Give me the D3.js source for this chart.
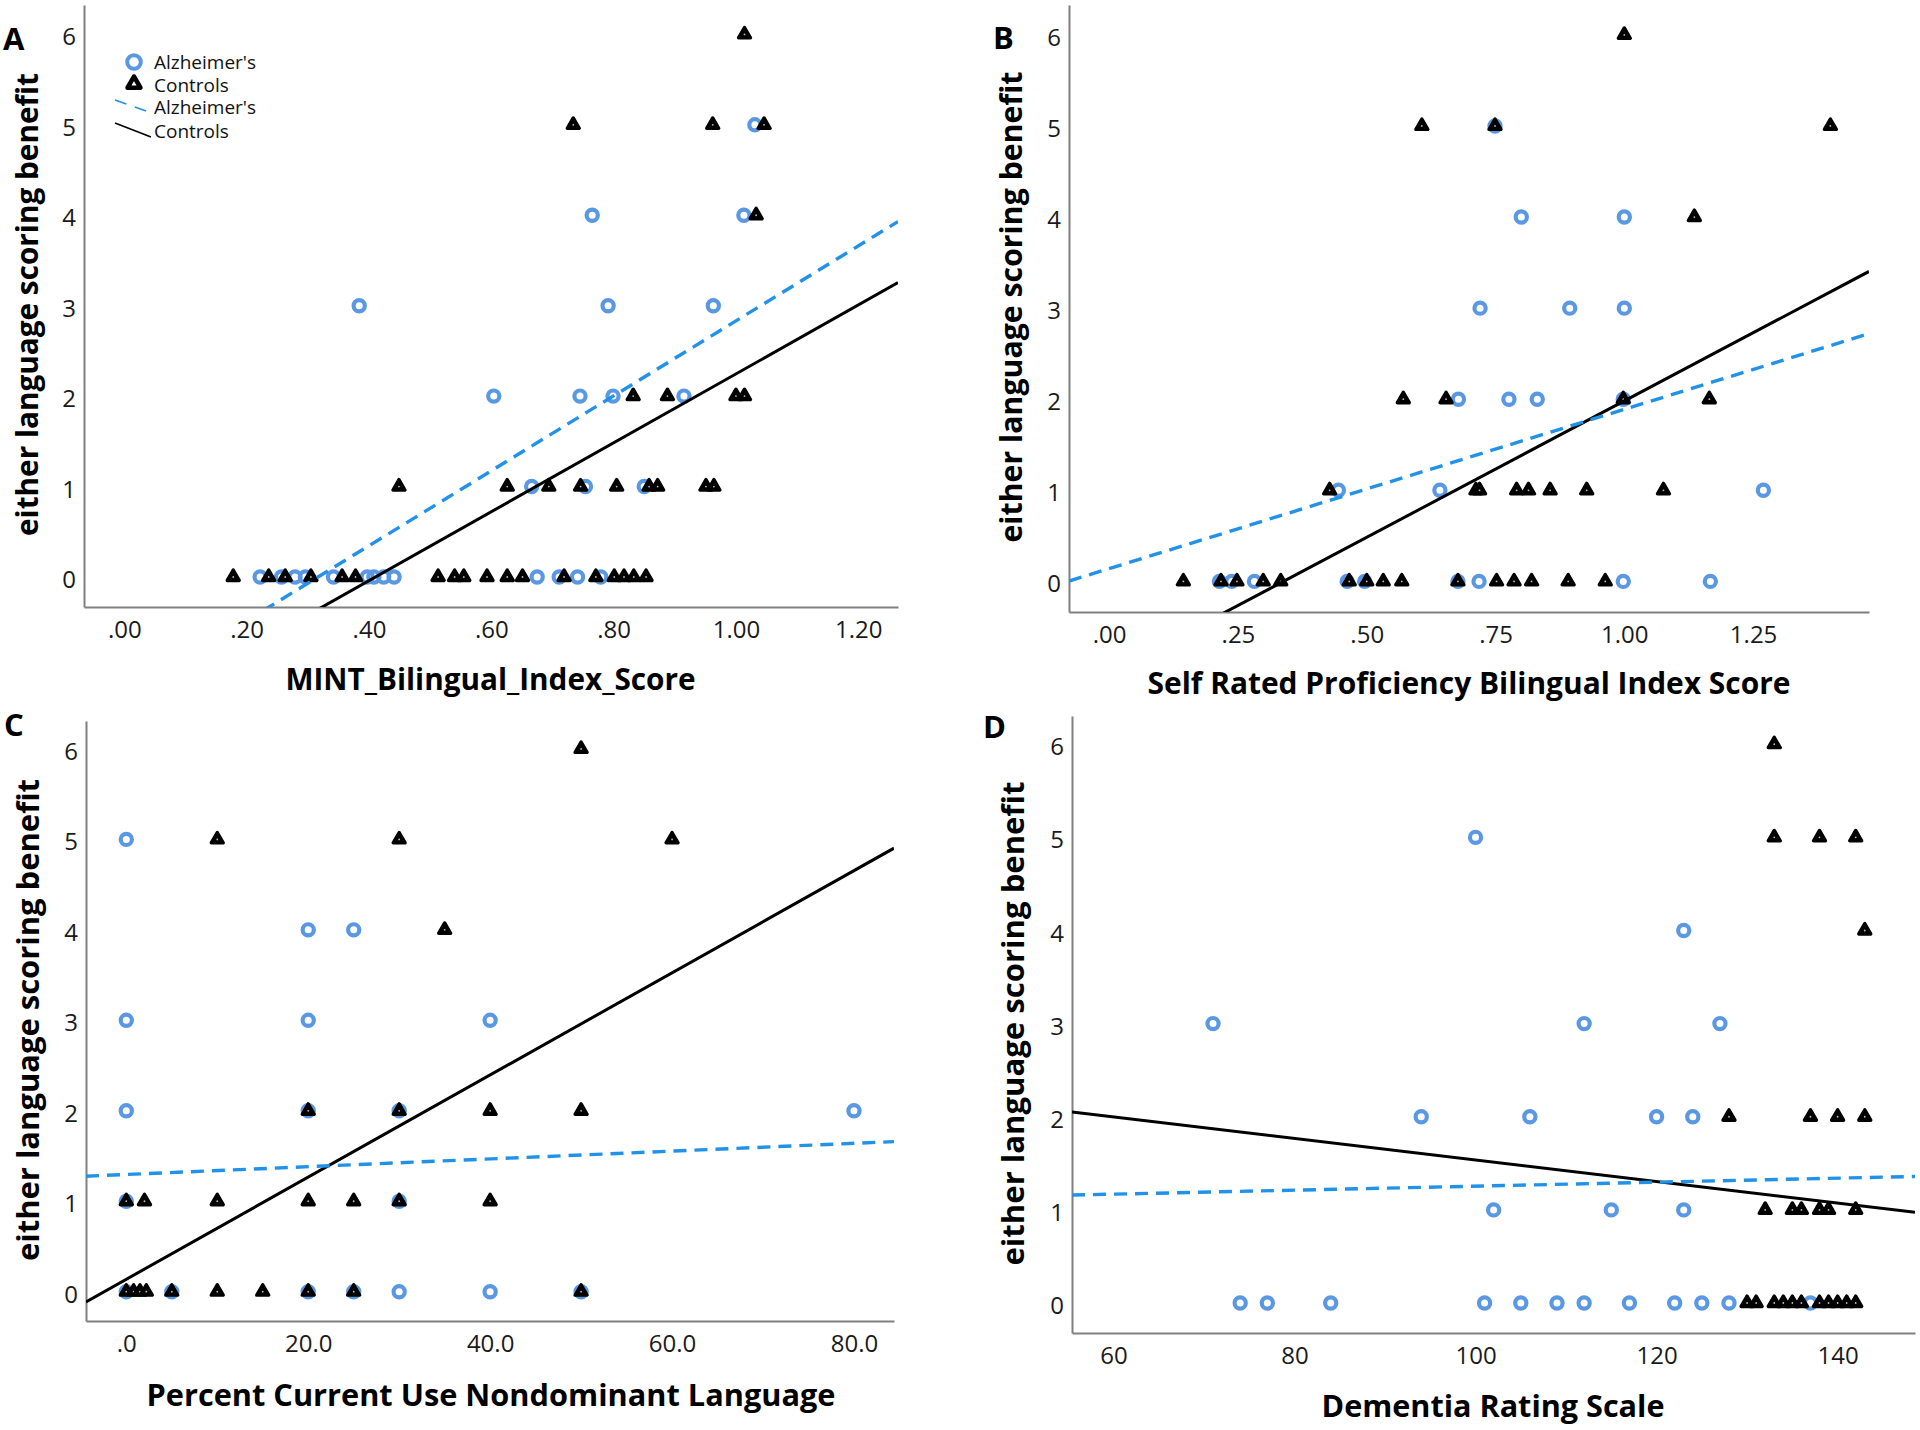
<!DOCTYPE html>
<html><head><meta charset="utf-8">
<script src="https://cdn.jsdelivr.net/npm/d3@7"></script>
<style>body{margin:0;background:#fff}svg{display:block}</style>
</head><body>
<svg id="chart" width="1920" height="1430"></svg>
<script>
// ---------- DATA ----------
const panelLetters = ["A", "B", "C", "D"];
const xTitles = ["MINT_Bilingual_Index_Score", "Self Rated Proficiency Bilingual Index Score",
                 "Percent Current Use Nondominant Language", "Dementia Rating Scale"];
const yTitle = "either language scoring benefit";
const yTickValues = [0, 1, 2, 3, 4, 5, 6];
const legendLabels = ["Alzheimer's", "Controls", "Alzheimer's", "Controls"];

const xTicksA = [0, 0.2, 0.4, 0.6, 0.8, 1.0, 1.2];
const xTickLabelsA = [".00", ".20", ".40", ".60", ".80", "1.00", "1.20"];
const xTicksB = [0, 0.25, 0.5, 0.75, 1.0, 1.25];
const xTickLabelsB = [".00", ".25", ".50", ".75", "1.00", "1.25"];
const xTicksC = [0, 20, 40, 60, 80];
const xTickLabelsC = [".0", "20.0", "40.0", "60.0", "80.0"];
const xTicksD = [60, 80, 100, 120, 140];
const xTickLabelsD = ["60", "80", "100", "120", "140"];

// Panel A: MINT bilingual index
const alzA = [[0.222,0],[0.257,0],[0.279,0],[0.296,0],[0.342,0],[0.397,0],[0.408,0],[0.424,0],[0.441,0],
  [0.675,0],[0.711,0],[0.741,0],[0.779,0],
  [0.666,1],[0.754,1],[0.850,1],
  [0.604,2],[0.745,2],[0.799,2],[0.915,2],
  [0.384,3],[0.791,3],[0.963,3],
  [0.765,4],[1.013,4],
  [1.031,5]];
const ctlA = [[0.178,0],[0.236,0],[0.263,0],[0.305,0],[0.356,0],[0.378,0],[0.513,0],[0.540,0],[0.555,0],
  [0.593,0],[0.626,0],[0.651,0],[0.719,0],[0.771,0],[0.801,0],[0.817,0],[0.833,0],[0.853,0],
  [0.449,1],[0.626,1],[0.694,1],[0.746,1],[0.805,1],[0.858,1],[0.872,1],[0.951,1],[0.964,1],
  [0.832,2],[0.888,2],[1.000,2],[1.014,2],
  [1.033,4],
  [0.734,5],[0.962,5],[1.046,5],
  [1.014,6]];
const fitAlzA = [[-0.066,-1.586],[1.265,3.93]];
const fitCtlA = [[-0.066,-1.816],[1.265,3.255]];

// Panel B: self-rated proficiency
const alzB = [[0.214,0],[0.238,0],[0.282,0],[0.462,0],[0.496,0],[0.677,0],[0.718,0],[0.998,0],[1.167,0],
  [0.445,1],[0.642,1],[1.270,1],
  [0.678,2],[0.776,2],[0.831,2],[0.998,2],
  [0.720,3],[0.894,3],[1.0,3],
  [0.80,4],[1.0,4],
  [0.749,5]];
const ctlB = [[0.144,0],[0.217,0],[0.248,0],[0.299,0],[0.333,0],[0.466,0],[0.50,0],[0.532,0],[0.568,0],
  [0.677,0],[0.752,0],[0.786,0],[0.820,0],[0.891,0],[0.963,0],
  [0.428,1],[0.712,1],[0.719,1],[0.791,1],[0.814,1],[0.856,1],[0.927,1],[1.076,1],
  [0.571,2],[0.654,2],[0.998,2],[1.165,2],
  [1.136,4],
  [0.607,5],[0.749,5],[1.40,5],
  [1.0,6]];
const fitAlzB = [[-0.078,0.004],[1.475,2.72]];
const fitCtlB = [[-0.078,-1.246],[1.475,3.403]];

// Panel C: percent current use
const alzC = [[0,0],[5,0],[20,0],[25,0],[30,0],[40,0],[50,0],
  [0,1],[30,1],
  [0,2],[20,2],[30,2],[80,2],
  [0,3],[20,3],[40,3],
  [20,4],[25,4],
  [0,5]];
const ctlC = [[0,0],[0.8,0],[1.5,0],[2.2,0],[5,0],[10,0],[15,0],[20,0],[25,0],[50,0],
  [0,1],[2,1],[10,1],[20,1],[25,1],[30,1],[40,1],
  [20,2],[30,2],[40,2],[50,2],
  [35,4],
  [10,5],[30,5],[60,5],
  [50,6]];
const fitAlzC = [[-4.43,1.277],[84.4,1.659]];
const fitCtlC = [[-4.43,-0.113],[84.4,4.903]];

// Panel D: dementia rating scale
const alzD = [[74,0],[77,0],[84,0],[101,0],[105,0],[109,0],[112,0],[117,0],[122,0],[125,0],[128,0],[137,0],
  [102,1],[115,1],[123,1],
  [94,2],[106,2],[120,2],[124,2],
  [71,3],[112,3],[127,3],
  [123,4],
  [100,5]];
const ctlD = [[130,0],[131,0],[133,0],[134,0],[135,0],[136,0],[138,0],[139,0],[140,0],[141,0],[142,0],
  [132,1],[135,1],[136,1],[138,1],[139,1],[142,1],
  [128,2],[137,2],[140,2],[143,2],
  [143,4],
  [133,5],[138,5],[142,5],
  [133,6]];
const fitAlzD = [[55.42,1.159],[148.55,1.359]];
const fitCtlD = [[55.42,2.052],[148.55,0.974]];

// ---------- LAYOUT ----------
const COL_CIRCLE = "#5a98e4";
const COL_DASH = "#2192e8";
const COL_AXIS = "#808080";
const FONT = "'Open Sans', 'DejaVu Sans', sans-serif";

const panels = [
  {alz: alzA, ctl: ctlA, fa: fitAlzA, fc: fitCtlA, ticks: xTicksA, labels: xTickLabelsA,
   box: {l: 84, r: 898, t: 5, b: 607}, xd: [-0.066, 1.265], yd: [-0.332, 6.325],
   letter: [3, 50], xt: {cx: 490.5, y: 690, len: 410}, yt: {x: 38, cy: 304.5, len: 463}},
  {alz: alzB, ctl: ctlB, fa: fitAlzB, fc: fitCtlB, ticks: xTicksB, labels: xTickLabelsB,
   box: {l: 1069, r: 1869, t: 5, b: 612}, xd: [-0.078, 1.475], yd: [-0.336, 6.328],
   letter: [993, 49], xt: {cx: 1469, y: 694, len: 643}, yt: {x: 1022, cy: 307, len: 471}},
  {alz: alzC, ctl: ctlC, fa: fitAlzC, fc: fitCtlC, ticks: xTicksC, labels: xTickLabelsC,
   box: {l: 86, r: 894, t: 721, b: 1321}, xd: [-4.43, 84.4], yd: [-0.324, 6.309],
   letter: [4, 736], xt: {cx: 491, y: 1406, len: 689}, yt: {x: 39, cy: 1020, len: 482}},
  {alz: alzD, ctl: ctlD, fa: fitAlzD, fc: fitCtlD, ticks: xTicksD, labels: xTickLabelsD,
   box: {l: 1072, r: 1915, t: 716, b: 1333}, xd: [55.42, 148.55], yd: [-0.322, 6.303],
   letter: [983, 738], xt: {cx: 1493, y: 1417, len: 343}, yt: {x: 1024, cy: 1023.5, len: 484}}
];

const svg = d3.select("#chart");
const tri = d3.symbol().type(d3.symbolTriangle).size(62);
const triLeg = d3.symbol().type(d3.symbolTriangle).size(72);

panels.forEach((p, i) => {
  const g = svg.append("g");
  const x = d3.scaleLinear().domain(p.xd).range([p.box.l, p.box.r]);
  const y = d3.scaleLinear().domain(p.yd).range([p.box.b, p.box.t]);

  const cid = "clip" + i;
  svg.append("clipPath").attr("id", cid).append("rect")
    .attr("x", p.box.l).attr("y", p.box.t)
    .attr("width", p.box.r - p.box.l).attr("height", p.box.b - p.box.t);

  const xAxis = d3.axisBottom(x).tickValues(p.ticks)
    .tickFormat((d, k) => p.labels[k]).tickSize(0).tickPadding(14);
  const gx = g.append("g").attr("transform", `translate(0,${p.box.b})`).call(xAxis);
  const yAxis = d3.axisLeft(y).tickValues(yTickValues).tickFormat(d3.format("d"))
    .tickSize(0).tickPadding(8);
  const gy = g.append("g").attr("transform", `translate(${p.box.l},0)`).call(yAxis);
  [gx, gy].forEach(a => {
    a.select(".domain").attr("stroke", COL_AXIS).attr("stroke-width", 2);
    a.selectAll("text").attr("font-family", FONT).attr("font-size", 24).attr("fill", "#1a1a1a");
  });
  gy.selectAll("text").attr("dy", "0.44em");

  g.append("g").selectAll("circle").data(p.alz).join("circle")
    .attr("cx", d => x(d[0])).attr("cy", d => y(d[1])).attr("r", 5.6)
    .attr("fill", "none").attr("stroke", COL_CIRCLE).attr("stroke-width", 4.2);
  const gt = g.append("g").selectAll("g").data(p.ctl).join("g")
    .attr("transform", d => `translate(${x(d[0])},${y(d[1])})`);
  gt.append("path").attr("d", tri).attr("fill", "#000").attr("stroke", "#000")
    .attr("stroke-width", 3.4).attr("stroke-linejoin", "round");
  gt.append("circle").attr("r", 0.9).attr("fill", "#bbb");

  const line = d3.line().x(d => x(d[0])).y(d => y(d[1]));
  const gl = g.append("g").attr("clip-path", `url(#${cid})`);
  gl.append("path").datum(p.fc).attr("d", line).attr("fill", "none")
    .attr("stroke", "#000").attr("stroke-width", 3);
  gl.append("path").datum(p.fa).attr("d", line).attr("fill", "none")
    .attr("stroke", COL_DASH).attr("stroke-width", 3.4).attr("stroke-dasharray", "13,8");

  g.append("text").attr("x", p.xt.cx).attr("y", p.xt.y).attr("text-anchor", "middle")
    .attr("font-family", FONT).attr("font-weight", 700).attr("font-size", 29.5)
    .attr("textLength", p.xt.len).attr("lengthAdjust", "spacingAndGlyphs")
    .text(xTitles[i]);
  g.append("text").attr("transform", `translate(${p.yt.x},${p.yt.cy}) rotate(-90)`)
    .attr("text-anchor", "middle")
    .attr("font-family", FONT).attr("font-weight", 700).attr("font-size", p.yt.len / 15.5)
    .attr("textLength", p.yt.len).attr("lengthAdjust", "spacingAndGlyphs")
    .text(yTitle);
  g.append("text").attr("x", p.letter[0]).attr("y", p.letter[1])
    .attr("font-family", FONT).attr("font-weight", 700).attr("font-size", 31)
    .text(panelLetters[i]);
});

// legend (panel A)
const lg = svg.append("g").attr("font-family", FONT).attr("font-size", 19).attr("fill", "#111");
lg.append("circle").attr("cx", 134).attr("cy", 62).attr("r", 6.8)
  .attr("fill", "none").attr("stroke", COL_CIRCLE).attr("stroke-width", 4);
lg.append("path").attr("transform", "translate(134,84)").attr("d", triLeg)
  .attr("fill", "#fff").attr("stroke", "#000").attr("stroke-width", 4.6).attr("stroke-linejoin", "round");
lg.append("line").attr("x1", 115).attr("y1", 100).attr("x2", 149).attr("y2", 112)
  .attr("stroke", COL_DASH).attr("stroke-width", 1.8).attr("stroke-dasharray", "12,9");
lg.append("line").attr("x1", 115).attr("y1", 123).attr("x2", 151).attr("y2", 137)
  .attr("stroke", "#000").attr("stroke-width", 1.6);
const legY = [69, 91.5, 114, 138];
legendLabels.forEach((t, k) => {
  lg.append("text").attr("x", 154).attr("y", legY[k]).text(t);
});
</script>
</body></html>
